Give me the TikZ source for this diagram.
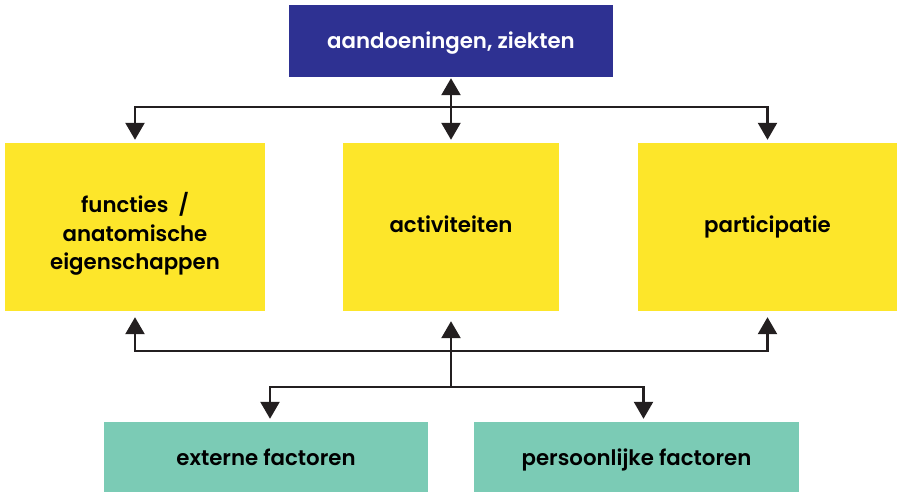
\documentclass[tikz,border=0pt]{standalone}
\usepackage{fontspec}
\setmainfont{Poppins}[BoldFont={Poppins SemiBold}]
\usetikzlibrary{arrows.meta}
\definecolor{navy}{RGB}{46,49,146}
\definecolor{sun}{RGB}{253,230,42}
\definecolor{mint}{RGB}{123,203,181}
\definecolor{ink}{RGB}{35,31,32}
\begin{document}
\begin{tikzpicture}[x=1pt,y=-1pt,
  box/.style={inner sep=0pt,font=\bfseries\fontsize{21.3}{28.5}\selectfont,align=center,text depth=0pt},
  line/.style={draw=ink,line width=2.4pt},
  arr/.style={line,-{Triangle[length=17pt,width=19pt]}},
  arrboth/.style={line,{Triangle[length=17pt,width=19pt]}-{Triangle[length=17pt,width=19pt]}}]
  \useasboundingbox (0,0) rectangle (897,493);
  % top level
  \node[box,fill=navy,text=white,minimum width=324pt,minimum height=72pt,text height=14pt] (az) at (451,41) {aandoeningen, ziekten};
  % middle level
  \node[box,fill=sun,minimum width=260pt,minimum height=168pt] (fa) at (135,227) {};
  \node[box,text depth=] (fat) at ([yshift=-7pt]fa.center) {functies\ \ /\\anatomische\\eigenschappen};
  \node[box,fill=sun,minimum width=216pt,minimum height=168pt,text height=10pt] (ac) at (451,227) {activiteiten};
  \node[box,fill=sun,minimum width=259pt,minimum height=168pt,text height=10pt] (pa) at (767.5,227) {participatie};
  % bottom level
  \node[box,fill=mint,minimum width=324pt,minimum height=70pt,text height=17pt] (ef) at (266,457) {externe factoren};
  \node[box,fill=mint,minimum width=325pt,minimum height=70pt,text height=17pt] (pf) at (636.5,457) {persoonlijke factoren};
  % junctions
  \coordinate (j1) at (451,107);
  \coordinate (j2) at (451,351);
  \coordinate (j3) at (451,387);
  % upper connectors
  \draw[arrboth] ([yshift=-1pt]az.south) -- ([yshift=3pt]ac.north);
  \draw[arr] (j1) -| ([yshift=3pt]fa.north);
  \draw[arr] (j1) -| ([yshift=3pt]pa.north);
  % lower connectors
  \draw[arr] (j3) -- ([yshift=-10pt]ac.south);
  \draw[arr] (j2) -| ([yshift=-6pt]fa.south);
  \draw[arr] (j2) -| ([yshift=-6pt]pa.south);
  \draw[arr] (j3) -| ([xshift=4pt,yshift=3pt]ef.north);
  \draw[arr] (j3) -| ([xshift=7pt,yshift=3pt]pf.north);
\end{tikzpicture}
\end{document}
